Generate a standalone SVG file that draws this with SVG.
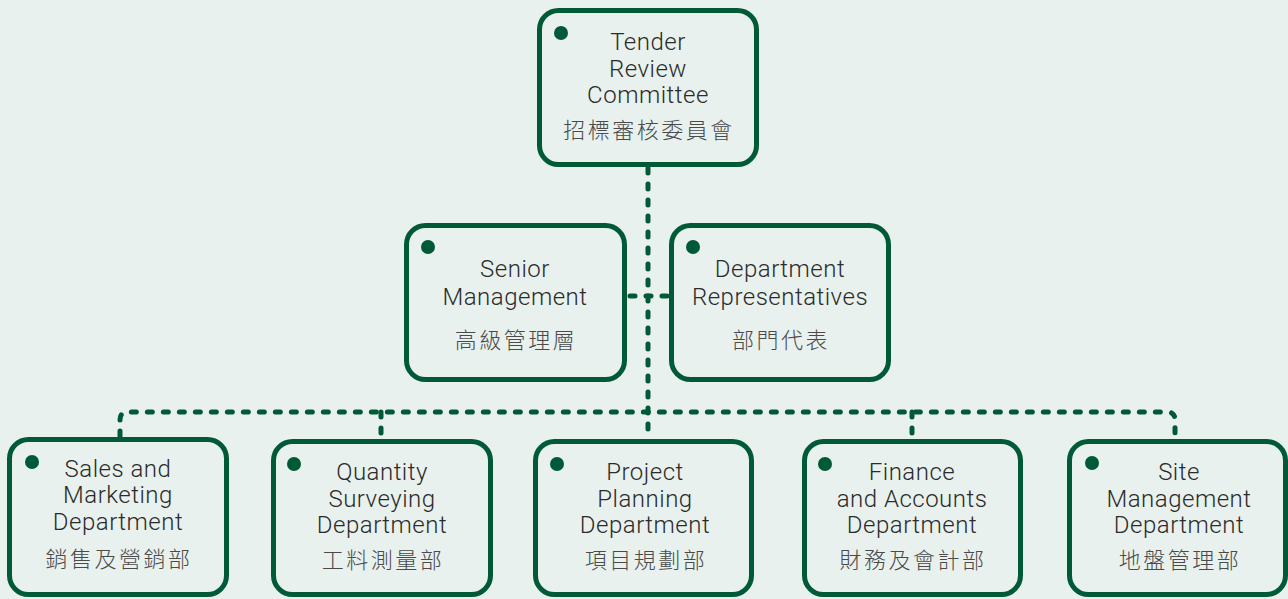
<svg xmlns="http://www.w3.org/2000/svg" width="1288" height="599" viewBox="0 0 1288 599">
<style>
.bg{fill:#e8f1ed}
.box{fill:#e8f1ed;stroke:#005a38;stroke-width:5}
.dot{fill:#005a38}
.en{font-family:Roboto,"Liberation Sans",sans-serif;font-weight:300;font-size:24px;letter-spacing:0.5px;fill:#2b2b2b;text-anchor:middle}
.zh{font-family:"Noto Sans CJK TC","Noto Sans CJK SC",sans-serif;font-weight:300;font-size:22px;fill:#4a4a4a;text-anchor:middle;letter-spacing:2.5px}
.conn{fill:none;stroke:#005a38;stroke-width:5;stroke-linecap:round;stroke-dasharray:5 11}
</style>
<rect class="bg" x="0" y="0" width="1288" height="599"/>
<g id="connectors">
<path class="conn" d="M648 168 V438"/>
<path class="conn" d="M630 296 H667"/>
<path class="conn" d="M120 436 V420 Q120 412 128 412 H1167 Q1175 412 1175 420 V436"/>
<path class="conn" d="M381 412 V436"/>
<path class="conn" d="M912 412 V436"/>
</g>
<g id="tender-review-committee">
<rect class="box" x="539.5" y="10.5" width="217" height="154" rx="19"/>
<circle class="dot" cx="561" cy="33" r="7"/>
<text class="en" x="648" y="50">Tender</text>
<text class="en" x="648" y="77">Review</text>
<text class="en" x="648" y="103">Committee</text>
<text class="zh" x="649" y="138">招標審核委員會</text>
</g>
<g id="senior-management">
<rect class="box" x="406.5" y="225.5" width="218" height="154" rx="19"/>
<circle class="dot" cx="428" cy="247" r="7"/>
<text class="en" x="515" y="277">Senior</text>
<text class="en" x="515" y="305">Management</text>
<text class="zh" x="516" y="348">高級管理層</text>
</g>
<g id="department-representatives">
<rect class="box" x="671.5" y="225.5" width="217" height="154" rx="19"/>
<circle class="dot" cx="693" cy="247" r="7"/>
<text class="en" x="780" y="277">Department</text>
<text class="en" x="780" y="305">Representatives</text>
<text class="zh" x="781" y="348">部門代表</text>
</g>
<g id="sales-marketing">
<rect class="box" x="9.5" y="439.5" width="217" height="155" rx="19"/>
<circle class="dot" cx="32" cy="462" r="7"/>
<text class="en" x="118" y="477">Sales and</text>
<text class="en" x="118" y="503">Marketing</text>
<text class="en" x="118" y="530">Department</text>
<text class="zh" x="119" y="567">銷售及營銷部</text>
</g>
<g id="quantity-surveying">
<rect class="box" x="273.5" y="441.5" width="217" height="153" rx="19"/>
<circle class="dot" cx="294" cy="464" r="7"/>
<text class="en" x="382" y="480">Quantity</text>
<text class="en" x="382" y="507">Surveying</text>
<text class="en" x="382" y="533">Department</text>
<text class="zh" x="383" y="568">工料測量部</text>
</g>
<g id="project-planning">
<rect class="box" x="535.5" y="441.5" width="216" height="153" rx="19"/>
<circle class="dot" cx="557" cy="464" r="7"/>
<text class="en" x="645" y="480">Project</text>
<text class="en" x="645" y="507">Planning</text>
<text class="en" x="645" y="533">Department</text>
<text class="zh" x="646" y="568">項目規劃部</text>
</g>
<g id="finance-accounts">
<rect class="box" x="804.5" y="441.5" width="216" height="153" rx="19"/>
<circle class="dot" cx="825" cy="464" r="7"/>
<text class="en" x="912" y="480">Finance</text>
<text class="en" x="912" y="507">and Accounts</text>
<text class="en" x="912" y="533">Department</text>
<text class="zh" x="913" y="568">財務及會計部</text>
</g>
<g id="site-management">
<rect class="box" x="1069.5" y="441.5" width="216" height="153" rx="19"/>
<circle class="dot" cx="1092" cy="463" r="7"/>
<text class="en" x="1179" y="480">Site</text>
<text class="en" x="1179" y="507">Management</text>
<text class="en" x="1179" y="533">Department</text>
<text class="zh" x="1180" y="568">地盤管理部</text>
</g>
</svg>
